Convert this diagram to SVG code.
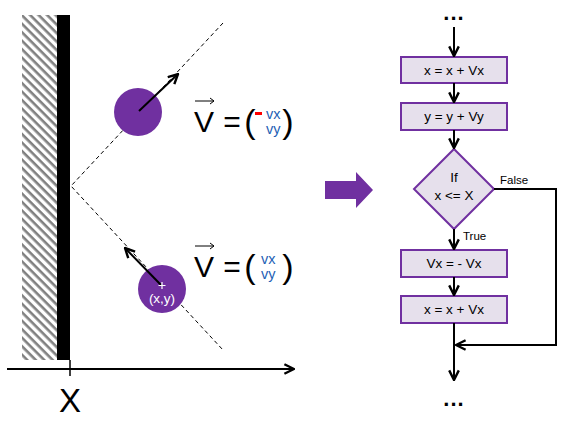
<svg xmlns="http://www.w3.org/2000/svg" width="576" height="423" viewBox="0 0 576 423">
<style>
.box{fill:#E6E0EC;stroke:#7030A0;stroke-width:2}
.ln{stroke:#000;stroke-width:2;fill:none}
.t{font-family:"Liberation Sans",Arial,sans-serif;font-size:13.5px;fill:#000;text-anchor:middle}
.dash{stroke:#000;stroke-width:1;stroke-dasharray:4,3;fill:none}
.big{font-family:"Liberation Sans",Arial,sans-serif;fill:#000}
.v{font-family:"Liberation Sans",Arial,sans-serif;font-size:14.5px;fill:#1F5FB5}
.dots{font-family:"Liberation Sans",Arial,sans-serif;font-size:22px;font-weight:bold;fill:#000;text-anchor:middle;letter-spacing:1px}
</style>
<defs>
<pattern id="hatch" patternUnits="userSpaceOnUse" width="6" height="6" patternTransform="rotate(45)">
<rect width="6" height="6" fill="#fff"/>
<rect x="0" y="0" width="6" height="2.6" fill="#808080"/>
</pattern>
<marker id="ah" viewBox="0 0 10 10" refX="9" refY="5" markerWidth="6" markerHeight="6" orient="auto" markerUnits="strokeWidth">
<path d="M1,1 L9,5 L1,9" fill="none" stroke="#000" stroke-width="2"/>
</marker>
</defs>

<g id="wall">
<rect x="22" y="15" width="35" height="345" fill="url(#hatch)"/>
<rect x="57" y="15" width="13" height="345" fill="#000"/>
</g>
<g id="axis">
<line x1="7" y1="369" x2="294" y2="369" class="ln" marker-end="url(#ah)"/>
<line x1="70" y1="360" x2="70" y2="376" stroke="#000" stroke-width="1.5"/>
<text x="70" y="412" class="big" font-size="33" text-anchor="middle">X</text>
</g>
<g id="trajectory">
<polyline points="223,23 71,186 223,350" class="dash"/>
</g>
<g id="ball1">
<circle cx="138" cy="112" r="24" fill="#7030A0"/>
<line x1="139" y1="111" x2="178" y2="74" class="ln" marker-end="url(#ah)"/>
</g>
<g id="ball2">
<circle cx="162" cy="289" r="24" fill="#7030A0"/>
<line x1="161" y1="285" x2="125" y2="248" class="ln" marker-end="url(#ah)"/>
<path d="M158.5,285.5 H165.5 M162,282 V289" stroke="#fff" stroke-width="1.2"/>
<text x="162" y="303" class="t" style="fill:#fff;font-size:13.5px">(x,y)</text>
</g>
<g id="eq1">
<text x="204" y="132" class="big" font-size="30" text-anchor="middle">V</text>
<line x1="195" y1="101" x2="214" y2="101" stroke="#000" stroke-width="1"/>
<path d="M210,98 L214,101 L210,104" fill="none" stroke="#000" stroke-width="1"/>
<text x="232" y="132" class="big" font-size="30" text-anchor="middle">=</text>
<text x="250" y="133" class="big" font-size="34" text-anchor="middle">(</text>
<rect x="255" y="112" width="7" height="3" fill="#FF0000"/>
<text x="266" y="119" class="v">vx</text>
<text x="266" y="134" class="v">vy</text>
<text x="288" y="133" class="big" font-size="34" text-anchor="middle">)</text>
</g>
<g id="eq2">
<text x="204" y="277" class="big" font-size="30" text-anchor="middle">V</text>
<line x1="195" y1="246" x2="214" y2="246" stroke="#000" stroke-width="1"/>
<path d="M210,243 L214,246 L210,249" fill="none" stroke="#000" stroke-width="1"/>
<text x="232" y="277" class="big" font-size="30" text-anchor="middle">=</text>
<text x="250" y="278" class="big" font-size="34" text-anchor="middle">(</text>
<text x="261" y="264" class="v">vx</text>
<text x="261" y="279" class="v">vy</text>
<text x="288" y="278" class="big" font-size="34" text-anchor="middle">)</text>
</g>
<g id="bigarrow">
<polygon points="325,181 356,181 356,172 373,190 356,208 356,199 325,199" fill="#7030A0"/>
</g>

<g id="dots-top"><text x="454" y="20" class="dots">...</text></g>
<g id="box1"><rect x="401" y="57" width="106" height="26" class="box"/><text x="454" y="75" class="t">x = x + Vx</text></g>
<g id="box2"><rect x="401" y="103" width="106" height="27" class="box"/><text x="454" y="121" class="t">y = y + Vy</text></g>
<g id="cond"><polygon points="454,149 494,189 454,229 414,189" class="box"/><text x="454" y="182" class="t">If</text><text x="454" y="200" class="t">x &lt;= X</text></g>
<g id="box3"><rect x="401" y="250" width="106" height="27" class="box"/><text x="454" y="268" class="t">Vx = - Vx</text></g>
<g id="box4"><rect x="401" y="296" width="106" height="27" class="box"/><text x="454" y="314" class="t">x = x + Vx</text></g>
<g id="dots-bot"><text x="454" y="406" class="dots">...</text></g>

<g id="connectors">
<line x1="454" y1="27" x2="454" y2="56" class="ln" marker-end="url(#ah)"/>
<line x1="454" y1="83" x2="454" y2="102" class="ln" marker-end="url(#ah)"/>
<line x1="454" y1="130" x2="454" y2="148" class="ln" marker-end="url(#ah)"/>
<line x1="454" y1="229" x2="454" y2="249" class="ln" marker-end="url(#ah)"/>
<line x1="454" y1="277" x2="454" y2="295" class="ln" marker-end="url(#ah)"/>
<line x1="454" y1="323" x2="454" y2="380" class="ln" marker-end="url(#ah)"/>
<polyline points="494,189 556,189 556,345 456,345" class="ln" marker-end="url(#ah)"/>
<text x="500" y="184" class="t" style="text-anchor:start;font-size:11.5px">False</text>
<text x="463" y="240" class="t" style="text-anchor:start;font-size:11.5px">True</text>
</g>
</svg>
